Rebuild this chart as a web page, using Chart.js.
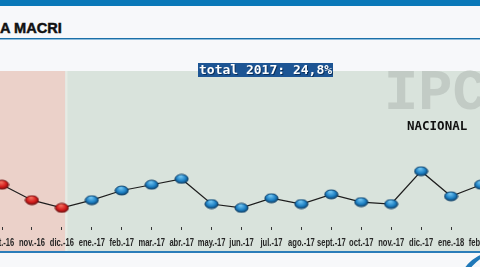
<!DOCTYPE html>
<html>
<head>
<meta charset="utf-8">
<script src="https://cdn.jsdelivr.net/npm/chart.js@4"></script>
<style>
  html, body { margin: 0; padding: 0; }
  body { width: 480px; height: 267px; overflow: hidden; position: relative; background: #f7f8fa; }
  #topbar { position: absolute; left: 0; top: 0; width: 480px; height: 6px; background: #0a78b8; }
  #title { position: absolute; left: 0; top: 19px; font: bold 15.5px "Liberation Sans", sans-serif; color: #111;
           -webkit-text-stroke: 0.5px #111; transform: scaleX(0.94); transform-origin: left top; }
  #rule1 { position: absolute; left: 0; top: 38px; width: 480px; height: 1px; background: #1b6fa8; }
  #rule2 { position: absolute; left: 0; top: 39px; width: 480px; height: 1px; background: #8fbddb; }
  #bottomrule { position: absolute; left: 0; top: 251px; width: 480px; height: 2px; background: #2b7db9; }
  #chartbox { position: absolute; left: -28px; top: 0; width: 540px; height: 267px; }
  #total { position: absolute; left: 198px; top: 63px; height: 14px; padding: 0 1px; background: #1d5594; color: #fff;
           font: bold 13px "DejaVu Sans Mono", monospace; line-height: 14px; text-shadow: 1px 1px 0 #0b2f5a; }
  #ipc { position: absolute; left: 384px; top: 66px; font: bold 57px "Liberation Mono", monospace; color: #c2cbc5; line-height: 57px; }
  #nacional { position: absolute; left: 407px; top: 118px; font: bold 12.5px "DejaVu Sans Mono", monospace; color: #111; }
  #swoosh { position: absolute; left: 455px; top: 250px; }
</style>
</head>
<body>
<div id="topbar"></div>
<div id="title">A MACRI</div>
<div id="rule1"></div>
<div id="rule2"></div>
<div id="chartbox"><canvas id="ipcChart" width="540" height="267"></canvas></div>
<div id="ipc">IPC</div>
<div id="nacional">NACIONAL</div>
<div id="total">total 2017: 24,8%</div>
<div id="bottomrule"></div>
<svg id="swoosh" width="30" height="20"><path d="M8 20 Q16 8 30 3 L30 6 Q21 11 14 20 Z" fill="#1f78b8"/></svg>
<script>
const months = ['oct.-16', 'nov.-16', 'dic.-16', 'ene.-17', 'feb.-17', 'mar.-17', 'abr.-17', 'may.-17', 'jun.-17',
  'jul.-17', 'ago.-17', 'sept.-17', 'oct.-17', 'nov.-17', 'dic.-17', 'ene.-18', 'feb.-18']
const ipcMensual = [2.4, 1.6, 1.2, 1.6, 2.1, 2.4, 2.7, 1.4, 1.2, 1.7, 1.4, 1.9, 1.5, 1.4, 3.1, 1.8, 2.4]
const ultimoMes2016 = 2

function makeBall(base, light, dark) {
  const c = document.createElement('canvas')
  c.width = 15
  c.height = 11
  const g = c.getContext('2d')
  g.save()
  g.translate(7.5, 5.5)
  g.scale(1, 0.68)
  const grad = g.createRadialGradient(-1, -4, 1, 0, 0, 7)
  grad.addColorStop(0, light)
  grad.addColorStop(0.6, base)
  grad.addColorStop(1, dark)
  g.beginPath()
  g.arc(0, 0, 6.6, 0, Math.PI * 2)
  g.fillStyle = grad
  g.fill()
  g.lineWidth = 1
  g.strokeStyle = dark
  g.stroke()
  g.restore()
  return c
}
const redBall = makeBall('#d41c1c', '#f06a5a', '#6e0d0d')
const blueBall = makeBall('#1d80c4', '#6cc0ee', '#0c3e66')

// fondos: rosa hasta dic-16, gris verdoso después
const bands = {
  id: 'bands',
  beforeDraw(chart) {
    const { ctx, scales: { x } } = chart
    const step = x.getPixelForValue(1) - x.getPixelForValue(0)
    const split = x.getPixelForValue(ultimoMes2016) + step * 0.12
    ctx.save()
    ctx.fillStyle = '#ebd1c9'
    ctx.fillRect(0, 71, split, 180)
    ctx.fillStyle = '#d9e3dc'
    ctx.fillRect(split, 71, chart.width - split, 180)
    ctx.fillStyle = '#e6ebe4'
    ctx.fillRect(split, 71, 2, 180)
    ctx.restore()
  }
}

// etiquetas condensadas (no hay fuente narrow instalada)
const narrowLabels = {
  id: 'narrowLabels',
  afterDraw(chart) {
    const { ctx, scales: { x } } = chart
    ctx.save()
    ctx.font = 'bold 11.5px "Liberation Sans", sans-serif'
    ctx.fillStyle = '#262626'
    ctx.textAlign = 'center'
    ctx.textBaseline = 'alphabetic'
    x.ticks.forEach((t, i) => {
      const px = x.getPixelForTick(i)
      ctx.save()
      ctx.translate(px, 245.5)
      ctx.scale(0.66, 1)
      ctx.fillText(chart.data.labels[t.value], 0, 0)
      ctx.restore()
    })
    ctx.restore()
  }
}

new Chart(document.getElementById('ipcChart'), {
  type: 'line',
  data: {
    labels: months,
    datasets: [{
      data: ipcMensual,
      borderColor: '#1e1e1e',
      borderWidth: 1.2,
      tension: 0,
      pointStyle: (c) => (c.dataIndex <= ultimoMes2016 ? redBall : blueBall),
      pointRadius: 7,
      pointHoverRadius: 7
    }]
  },
  options: {
    responsive: false,
    animation: false,
    events: [],
    layout: { padding: { left: 30, right: 31, top: 71, bottom: 0 } },
    plugins: { legend: { display: false }, tooltip: { enabled: false } },
    scales: {
      x: {
        offset: false,
        border: { display: false },
        grid: { drawOnChartArea: false, drawTicks: true, tickLength: 3, tickColor: '#333', lineWidth: 1 },
        ticks: { autoSkip: false, maxRotation: 0, display: false },
        afterFit: (s) => { s.height = 40 }
      },
      y: { display: false, min: 0.21, max: 8.29 }
    }
  },
  plugins: [bands, narrowLabels]
})
</script>
</body>
</html>
